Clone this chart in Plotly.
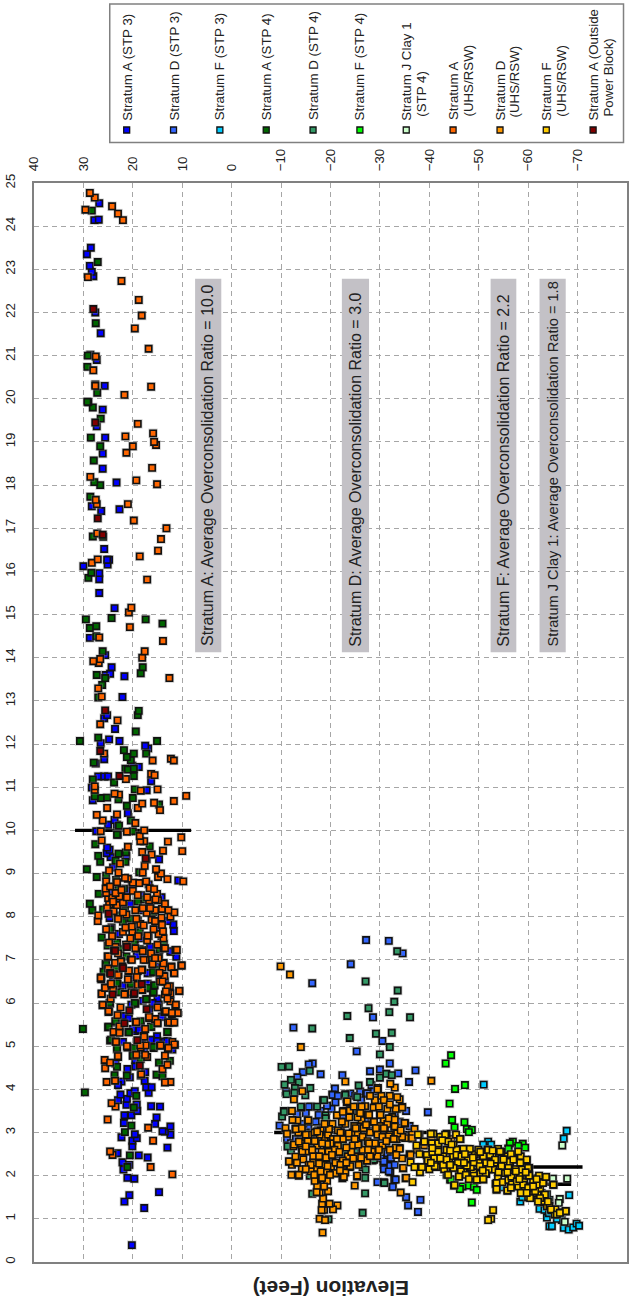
import plotly.graph_objects as go

# each point: (elevation in feet, overconsolidation ratio)
a_stp3 = [(20.2,.39),(17.7,1.25),(21.7,1.4),(20.7,1.55),(14.7,1.62),(19.7,1.93),(21.1,1.95),(21.9,2.14),(20.7,2.25),(22.1,2.31),
(18.8,2.47),(17,2.42),(23.1,2.52),(13,2.65),(20.1,2.68),(20.1,2.81),(19.2,2.87),(19.6,2.96),(22.3,2.89),(12.4,2.95),(13.5,3.02),
(14,3.03),(12.4,3.14),(15.5,3.2),(21.8,3.22),(15.2,3.35),(21.7,3.4),(20.3,3.4),(19.1,3.5),(19.2,3.65),(16.3,3.61),(14.5,3.6),
(21.3,3.64),(23,3.75),(21.2,3.78),(22.5,3.88),(20.5,3.91),(16.8,3.92),(19.6,3.96),(17.3,4.05),(16.2,4.05),(22.3,4.18),(23,4.1),
(17.6,4.2),(17.5,4.4),(21.1,4.47),(20.6,4.28),(18.4,4.32),(19.5,4.53),(19.5,4.68),(12,4.92),(17.7,4.9),(16.2,5.12),(15.1,5.23),
(15.1,5.12),(13.5,5.11),(18.9,5.37),(18.4,5.5),(19.6,5.35),(14,5.69),(21.7,5.7),(15.9,5.96),(14.8,5.96),(20.3,5.96),(16.7,5.83),
(16.4,6.7),(19.6,6.6),(14.6,6.6),(15.3,7.71),(19,7.92),(24.7,7.97),(12.4,7.2),(11.2,7.07),(11.7,7.67),(24.3,7.75),(11.8,7.82),
(18.1,8.15),(14.2,8.45),(20.2,8.75),(10.8,8.84),(24,9.14),(14.7,9.33),(24.5,9.38),(21.3,9.4),(25.3,9.47),(24.7,9.55),(25.2,9.6),
(23,9.9),(27.4,9.98),(23.2,10.13),(25,10.13),(23.7,10.24),(21,10.4),(28.1,10.7),(17.2,10.93),(28.3,10.99),(16.3,11.14),
(27,11.25),(25.8,11.25),(25,11.25),(20.1,11.5),(18.8,11.47),(25.8,11.65),(27.5,11.55),(16.9,11.9),(17.5,11.96),(26.5,12.02),
(24.8,12.11),(22.7,12.07),(23.6,12.35),(25.8,12.6),(25.2,12.67),(22.1,13.09),(21.7,13.57),(25.5,13.6),(24.6,13.63),(24.3,13.78),
(25.6,14.06),(28.7,14.46),(23.7,15.15),(26.8,15.5),(26.8,15.82),(26.8,15.96),(30,16.12),(25.1,16.16),(24.8,16.27),(25.2,16.27),
(25.8,16.52),(22.7,17.44),(26.4,17.4),(28.3,17.51),(23.3,18.06),(26.1,18.38),(26.1,18.73),(25.6,19.1),(27.3,19.36),(26.1,19.75),
(25.7,20.3),(27.3,20.9),(28.6,21.02),(26.5,21.52),(27.6,22),(28,22.84),(28.3,22.94),(28.7,23.08),(29.3,23.35),(28.5,23.5),
(27.8,24.14),(26.9,24.15),(26.8,24.53),(22,6.4),(17,6.45),(24,6.5),(15,6.1),(18,6.05),(21,6.2),(13.5,6.5),(19.2,7.1),(16.5,7.3),
(22.8,7.6),(13,7.9),(18.3,8.5),(20.5,8.3),(23.5,6.9),(14.8,6.85),(20,5.4),(22,5.1),(18.2,5.1),(23.5,4.6),
(12.3,7.19),(16,6),(14.8,5.96),(14.1,5.68),(17,6.69),(18.7,5.38),(16.3,5.15),(15.1,5.12),(13,5.12),(18,7.23),(17.8,7.12),
(22.3,7.95),(16.4,8.25),(20.8,7.35),(14.2,7.55),(24.2,8.6),(16.8,8.75),(21.2,8.6),(23.2,8.4),(18.5,7.5),(22.3,6.85),(16.2,7.15),(24.8,5.9),(20.8,5.65),(23.3,5.55)]

d_stp3 = [(-27.2,7.46),(-31.8,7.44),(-34.6,7.15),(-24.1,6.9),(-16.3,6.46),(-28.6,5.67),(-12.5,5.43),(-30.5,5.12),(-25.3,4.88),(-32,4.6),
(-16.4,4.6),(-15.6,4.58),(-18,4.35),(-28,4.42),(-30,4.46),(-22.4,4.33),(-37.2,4.44),(-33.7,4.37),(-35.9,4.17),(-14.4,4.4),(-13.3,4.28),
(-20.9,4.02),(-20.4,3.88),(-39.7,3.47),(-9.7,3.16),(-32.5,1.74),(-32.9,1.91),(-35.3,1.5),(-35.7,1.31),(-38.2,1.44),(-37.7,1.16),
(-32.1,2.08),(-31.9,2.23),(-30.7,2.33),(-31.5,2.52),(-31.2,2.68),(-11,3.95),(-11.2,2.85),(-12,2.75),(-13,2.85),(-16,3.6),(-18,3.5),
(-17,3.25),(-15.5,3.1),(-14.5,3.2),(-19,3.3),(-20,3.15),(-21,3.7),(-22.5,3.4),(-24,3.9),(-25,3.85),(-26,3.95),(-27.2,3.9),(-28.3,4.1),
(-29,3.7),(-31,3.3),(-33,3.4),(-34,3.25),(-35,3.2),(-30.2,2.4),(-30.8,2.15),(-32.2,2.4),(-29.5,1.85),(-24.5,3.4),(-25.5,3.6),(-27,3.3),
(-23,2.9),(-22,2.5),(-20.5,2.3),(-19,2.65),(-16,2.95),(-14,2.85),(-25,2.95),(-28,3.05),(-33,2.25),
(-15.6,3.6),(-17.6,3.41),(-20.4,3.87),(-27.4,3.91),(-31.5,2.52),(-32.2,2.41),(-30.8,2.33),(-31.8,2.1),(-33.2,1.91),(-32.6,1.74),
(-21.5,3.85),(-23.2,3.78),(-26.2,3.75),(-28.8,3.95),(-20.2,3.55),(-19.3,3.62),(-18.5,3.12),(-13.2,3.42),(-15,3.45),(-33.5,3.55),(-35.3,3.5),(-36,3.15)]

f_stp3 = [(-51,4.11),(-67.8,3.04),(-67.2,2.86),(-51.9,2.79),(-50.9,2.72),(-52.5,2.72),(-68.3,1.55),(-58.4,1.4),(-58.8,1.5),(-54.4,1.73),
(-64.3,1.44),(-63.8,1.57),(-62.3,1.23),(-63.3,1.21),(-63.8,1.03),(-64.3,.83),(-64.8,.83),(-66.8,.97),(-67.2,.79),(-68.2,.75),(-69.1,.8),
(-69.8,.89),(-70.3,.84),(-61.8,1.94),(-62.7,1.6),(-60.5,1.72),(-59.5,1.62),(-62,1.85),(-64.2,1.13),(-65.8,1.0)]

a_stp4 = [(30.1,5.4),(29.7,3.93),(21.1,2.2),(20.6,2.47),(21.6,3.01),(20.3,3.16),(19.8,3.58),(19.3,3.85),(21.2,4.32),(23.7,4.33),(15.2,4.34),
(14,4.3),(23.2,4.52),(14.7,4.62),(12.5,4.66),(18.4,4.7),(20,4.78),(19.8,4.92),(15.8,4.96),(23.2,4.93),(24.6,5.13),(20.9,5.33),(13,5.33),
(16.3,5.45),(25,5.44),(23.5,5.57),(18.4,5.58),(19.5,5.98),(24.6,5.99),(17.2,6.09),(22.6,6.25),(15.9,6.24),(15.7,6.41),(16.9,6.34),(19.2,6.41),
(20.4,6.44),(23.1,6.45),(25.8,6.72),(15.9,6.72),(23.4,6.78),(25.5,6.9),(16,6.93),(21.3,7.08),(16.5,7.05),(14.7,7.08),(14.6,7.24),(18.6,7.25),
(22.5,7.25),(25.1,7.33),(23.2,7.4),(13.7,7.37),(19.6,7.47),(26.3,7.52),(18.6,7.65),(24.6,7.71),(22,7.88),(22.5,8.03),(15.9,8.1),(26,8.17),
(21.6,8.15),(28.2,8.15),(28.7,8.3),(26.9,8.53),(22.9,8.64),(27.3,8.92),(25.4,8.95),(18.7,9.03),(29.3,9.1),(23.5,9.3),(26.6,9.27),(21.5,9.27),
(27,9.41),(22.9,9.46),(21.4,9.49),(16.6,9.63),(27.6,9.68),(23.2,9.9),(20,9.98),(22.8,10.11),(20.4,10.23),(21.2,10.57),(14.7,10.6),(22.9,10.72),
(20,10.75),(26.5,10.75),(25.2,10.76),(27.7,10.79),(19.6,10.95),(23.8,11.11),(28.1,11.18),(19.8,11.26),(21.5,11.43),(21,11.41),(19.8,11.43),
(20.4,11.63),(27.9,11.57),(21.2,11.7),(19.8,11.78),(17.3,11.78),(21.8,11.86),(15.1,12.07),(30.7,12.07),(27,12.15),(19.4,12.29),(19,12.67),
(18.8,12.77),(27,13.08),(26.2,13.37),(25.6,13.53),(27.3,13.6),(18.4,13.64),(18,13.78),(26.1,14.15),(27.4,14.5),(28.7,14.69),(27.4,14.73),
(14,14.79),(17.4,14.89),(29.5,14.89),(24.3,14.92),(29,15.85),(28.4,15.97),(28.1,16.81),(26,16.8),(26.6,18),(27.8,18.07),(28.6,17.73),(27.9,18.57),
(26.6,18.9),(28.5,19.1),(26.5,19.54),(28.1,19.8),(29,19.92),(29.2,19.93),(27.2,20.14),(27.6,20.33),(29.2,20.74),(29.1,21),(27.5,21.75),(27.1,23.17),(28.3,24.36),
(25.4,6.91),(25.9,6.72),(20.4,6.44),(16.1,6.91),(14.8,6.77),(15.6,6.41),(17,6.35),(15.8,6.25),(17.3,6.09),(19.6,6),(24.7,6),(23.5,5.58),(24.9,5.45),(20.8,5.32),
(16.3,5.45),(13,5.33),(15.8,4.98),(19.7,4.96),(23.2,4.95),(24.4,5.15),(20,4.79),(23.2,6.46),(19.7,7.42),(24,8.1),(20.4,7.95),(17.6,8.4),(21.8,8.65),(19,8.35),(23.4,8.85),(16.8,7.55)]

d_stp4 = [(-33.5,7.2),(-27.1,6.5),(-33.6,6.29),(-32.9,6.03),(-27.7,5.88),(-31.9,5.79),(-23.4,5.7),(-36.1,5.67),(-16.3,5.41),(-29.2,5.29),(-32.4,5.31),
(-23.9,5.19),(-32,4.98),(-30,4.81),(-10.1,4.52),(-11.6,4.53),(-15.8,4.43),(-12,4.22),(-13.6,4.16),(-10.7,4.11),(-15.9,4.03),(-11.1,3.89),(-12.8,4.03),
(-14.9,3.86),(-12.7,3.92),(-18.5,3.75),(-10.6,3.5),(-10.2,3.37),(-14.1,3.58),(-17.3,3.6),(-30,4.27),(-31.3,4.36),(-32.4,4.33),(-25.7,4.09),(-28,4.17),
(-23,3.89),(-27,1.59),(-26.5,1.14),(-19.6,.99),(-30.8,1.85),(-16.3,1.58),(-11.4,2.68),(-12,2.58),(-13,3.2),(-15,3.0),(-19,3.4),(-24.5,3.55),(-24,2.65),
(-25,2.55),(-23,2.5),(-28.5,2.35),(-27,2.4),(-26,3.35),(-16,2.65),(-17.5,3.05),(-22.5,2.72),(-20.5,2.45),(-27,1.95),(-26.5,2.2),(-15.8,2.0),
(-11.3,2.68),(-10.6,3.48),(-14,3.6),(-18.7,3.75),(-23,3.87),(-25.4,3.82),(-25,3.38),(-19,3.33),(-16,2.95),(-23,2.52),(-28.8,2.37),(-27.1,2.14),(-30.9,1.83),(-22.4,3.2)]

f_stp4 = [(-44.4,4.79),(-43.3,4.6),(-47.2,4.1),(-45.2,4.01),(-44.1,3.67),(-44.6,3.29),(-47.1,3.24),(-45.1,3.12),(-47.6,3.08),(-48.6,3.06),(-48,3.01),
(-56.9,2.79),(-56.3,2.75),(-58.9,2.74),(-58,2.69),(-59.4,2.65),(-56,2.63),(-44.5,2.47),(-53.5,2.41),(-48.9,2.27),(-58.9,2.23),(-47.1,2.41),(-44.2,1.91),
(-46.7,1.75),(-48,1.77),(-49,1.74),(-49.6,1.67),(-46.2,1.69),(-48.6,1.38),(-43.5,2.02),(-44.5,2.48),(-48.9,2.25),(-56,2.62),(-44.4,1.91)]

j_stp4 = [(-65,1.93),(-67.9,1.93),(-66.9,2.7),(-66.4,1.46),(-67.4,.93),(-66.2,1.37)]

a_uhs = [(12,2.03),(16.4,2.2),(24.1,2.48),(24.6,2.56),(15.9,2.81),(16.9,3.11),(25.1,3.3),(23.5,3.6),(24.3,3.68),(12.4,4.17),(13.5,4.16),(23.6,4.2),(25.3,4.17),
(18.3,4.35),(14,4.47),(13,4.57),(25.6,4.49),(25.7,4.68),(24.6,4.62),(13.5,4.78),(23,4.75),(17.1,4.75),(21.1,4.97),(18.4,4.97),(17.4,5.02),(14.5,5.01),
(12.9,4.94),(11.5,5.03),(12,5.1),(23.5,5.11),(17.8,5.24),(23.9,5.33),(22.7,5.34),(22.7,5.46),(12.9,5.55),(11.9,5.55),(15,5.53),(19.4,5.56),(11.1,5.77),
(12.1,5.74),(16.7,5.65),(15.5,5.63),(24.9,5.79),(23.1,5.72),(13.6,5.79),(11.4,5.95),(26.1,5.95),(12.4,6.04),(26.3,6.21),(21.6,6.21),(18.1,6.3),(24,6.31),
(25.6,6.36),(24.5,6.43),(13.5,6.2),(12.4,6.22),(12.9,6.27),(10.6,6.28),(12.5,6.39),(26.4,6.55),(19,6.74),(20.9,6.74),(14,6.82),(11.7,6.7),(22.9,6.67),
(26.4,6.6),(18.1,6.77),(19.2,6.6),(13.8,6.63),(12.2,6.85),(10.2,6.87),(13.8,6.93),(17.4,7),(23.6,6.93),(22.4,6.97),(20.4,7.01),(15.6,7.05),(25.1,7.08),
(11.4,7.23),(13.8,7.27),(19.5,7.27),(21.4,7.35),(17.1,7.45),(13.8,7.5),(17,7.56),(14.8,7.6),(13.9,7.66),(15.8,7.71),(20.1,7.65),(22,7.65),(25.4,7.71),
(14.1,7.81),(20.2,7.77),(18.5,7.83),(16.2,7.93),(12.4,8),(14.2,7.98),(15.5,7.9),(27.1,7.9),(21.3,8.05),(27,8.03),(17.2,8.09),(23.9,8.13),(19.5,8.15),
(11.6,8.1),(14.1,8.18),(23.2,8.27),(22,8.33),(14.9,8.38),(16.7,8.38),(17.1,8.45),(25,8.43),(24.2,8.44),(22.7,8.47),(15.1,8.53),(25.4,8.55),(16.6,8.66),
(15.7,8.64),(25.5,8.65),(23.2,8.8),(18.7,8.78),(20,8.79),(25.4,8.82),(17.3,8.82),(9.8,8.82),(13,8.87),(21,8.88),(21.6,8.9),(14.9,8.92),(14.3,9),(22.9,9.02),
(24.8,9.07),(18,9.02),(15.3,9.1),(17.6,9.18),(22.6,9.23),(17.2,9.33),(16.2,9.44),(18.1,9.5),(10,9.52),(13.9,9.53),(21,9.62),(12.9,9.74),(17.7,9.75),(18.5,9.75),
(26.3,9.77),(18.6,9.87),(10.2,9.84),(26.5,9.98),(21.2,9.97),(26.1,10.23),(19.5,10.17),(17.7,10),(27.3,10.36),(23.2,10.37),(14.5,10.47),(25.2,10.52),(19,10.52),
(18.1,10.62),(15.7,10.64),(11.7,10.68),(9.2,10.8),(22.8,10.83),(23.7,10.85),(15,10.95),(18.4,10.92),(27.7,10.94),(27.7,11.02),(21.4,11.19),(16.3,11.31),(15.6,11.28),
(16,11.62),(12.3,11.66),(11.7,11.62),(25.8,11.78),(26.6,12.46),(23.1,12.55),(26.3,13.1),(27,13.29),(12.6,13.53),(26.9,13.88),(28,13.92),(26.6,13.97),(18.1,14),
(17.6,14.15),(13.9,14.39),(26.8,14.47),(20.6,14.71),(20.8,15.05),(20.3,15.16),(17.1,15.81),(28.3,16.2),(27.1,16.28),(18.6,16.35),(14.9,16.48),(14.3,16.75),(27.2,16.88),
(13.2,17),(19.8,17.18),(21,17.56),(27.3,17.56),(27.5,17.66),(15.1,18.02),(19.3,18.11),(28.6,18.19),(16.1,18.4),(21.3,18.75),(20,18.9),(15.3,18.93),(15.7,19),(21.5,19.13),
(15.9,19.2),(19,19.42),(21.7,20.09),(27.6,20.3),(16.3,20.28),(28,20.66),(27.5,20.98),(16.8,21.16),(19.6,21.63),(18.2,21.93),(18.8,22.29),(22.3,22.73),(29.1,22.82),
(22,24.14),(23,24.29),(24.2,24.46),(29.6,24.38),(27.7,24.66),(28.7,24.77),(24.5,6.1),(22.5,5.9),(17.5,5.4),(14.5,6.5),(16,6.9),(21,6.55),(23.5,7.3),(25,6.8),(18,7.2),(15,7.35),
(24.8,8.28),(15.5,8.15),(18.9,7.55),(23,7.95),(16.3,7.15),(20.3,6.25),(13,6.1),(15,5.9),
(11.1,7.23),(13.5,7.27),(10.1,6.87),(12.2,6.83),(13.8,6.92),(14.8,7.04),(11.6,6.69),(13.6,6.62),(10.6,6.28),(13,6.38),(13.3,6.27),(11.3,5.96),(13.3,5.81),(10.9,5.77),(12.1,5.77),
(12.6,5.55),(11.6,5.55),(15,5.54),(16.7,5.68),(19.3,5.56),(11.6,5.04),(12.8,4.96),(14.4,5.02),(17.7,5.22),(18.5,5.02),(21.2,5),(23.4,5.1),(22.7,5.31),(26.1,5.96),(26.3,6.22),(26.5,6.58),
(25.6,6.35),(24.9,5.81),(24.4,6.45),(23,6.65),(22.4,6.96),(25,7.08),(20.2,7),(17.8,7),(20.8,6.75),(18.2,6.77),(15.5,7.04),(14.6,6.7),(21.7,6.2),(18.2,6.31),(19,6.42),(14,6.5),(23,4.77),(17.5,4.8),(19.3,4.8),
(24.2,7.55),(23,7.15),(21.5,7.75),(20.5,7.5),(24.8,7.4),(22,8.1),(24,8.35),(25.2,8.2),(21.2,8.45),(20,8.6),(19,8.5),(23.5,8.55),(24.6,8.7),(22.3,8.62),(18,8.2),(16.5,8.2),(15.4,8.4),(13.5,8.3),(12.8,8.15),(17.8,7.8),(19.3,7.95)]

d_uhs = [(-9.9,6.85),(-11.8,6.66),(-14,4.98),(-40.4,4.2),(-23,4.18),(-14.3,3.96),(-12.6,3.77),(-34.5,3.59),(-34,3.77),(-33,4.04),(-32.1,4.13),(-29.6,4.03),(-18.4,.68),(-17.8,1),
(-18.9,.97),(-21.4,1.31),(-18.7,1.21),(-20.5,1.22),(-18.3,1.35),(-19.8,1.35),(-18.5,1.47),(-17.8,1.61),(-19.5,1.64),(-17.3,1.76),(-19.3,1.88),(-16.8,1.88),(-24.9,1.77),(-25.4,1.98),
(-22.4,1.94),(-13.6,2),(-12.1,2.02),(-34.2,1.61),(-35.2,1.94),(-34.7,2.17),(-10.9,3.1),(-11.2,2.97),(-12.9,3.08),(-13.3,3.28),(-12.2,3.5),(-15.4,3.28),(-17.2,3.02),(-13.7,2.79),(-15.4,2.8),
(-11.7,2.33),(-12.9,2.44),(-14.5,2.38),(-15.3,2.56),(-16.3,2.6),(-17.6,2.43),(-17,2.18),(-18.2,1.94),(-19.3,2.72),(-18.8,2.87),(-20.4,3.2),(-22.1,3),(-21.5,2.69),(-20.1,2.21),(-20.8,2.05),
(-22.3,2.21),(-23.9,2.2),(-23,2.07),(-23.6,2.9),(-22.6,3.5),(-23.3,3.7),(-24,3.52),(-26.3,3.29),(-26.7,3.1),(-27,3.61),(-27.5,3.41),(-28.7,3.58),(-30,3.41),(-28.7,3.25),(-30.8,3.27),(-32.5,3.36),
(-31,3.09),(-32.9,3.14),(-35.1,3.21),(-37,3.08),(-33.4,2.85),(-35.1,2.87),(-36.6,2.86),(-34,2.64),(-28.4,2.56),(-25.7,2.73),(-27.4,2.35),(-25.7,2.25),(-23.5,2.45),(-18.6,2.25),
(-13.5,3),(-14.2,2.62),(-12.5,2.68),(-16.5,2.45),(-15.6,2.25),(-14.2,2.15),(-16,2.1),(-17.3,2.7),(-18.2,2.55),(-19.2,2.4),(-18,3.05),(-19.5,2.95),(-20.5,2.85),(-21.5,3.05),(-20.8,2.6),(-22.5,2.85),
(-23,3.2),(-24.5,3),(-25.5,2.95),(-24.5,2.7),(-26.5,2.9),(-27.5,2.8),(-28,3),(-29.5,2.95),(-29,2.75),(-30.5,2.9),(-32,2.95),(-31.5,3.2),(-30,3.15),(-29,3.75),(-31.5,3.55),(-33.2,3.55),(-32,3.85),
(-30.3,3.85),(-29.5,4.0),(-28,3.85),(-26.3,3.6),(-25.5,3.35),(-24.8,3.15),(-25.5,2.45),(-24.2,2.55),(-22.5,2.35),(-21,2.3),(-19.2,2.1),(-18,2.1),(-16.5,2.3),(-18.7,1.75),(-17.8,2.95),(-15.5,2.95),
(-22.3,3.25),(-21.3,3.4),(-23.8,3.35),(-34.5,2.9),(-36.5,2.95),(-37.5,2.6),(-36,2.5),(-34.5,2.4),(-33.2,2.65),(-32,2.6),(-30.5,2.7),(-29.5,2.45),(-20,2.75),(-12.2,2.25),(-14,2.75),(-16.8,3),
(-19.6,2.55),(-26.5,2.6),(-38,2.95),(-39,2.7),(-40.5,2.9),(-41.5,2.65),(-44.5,2.85),
(-11.6,2.33),(-12.6,2.72),(-13.6,2.02),(-14.3,2.56),(-16.3,2.6),(-17.7,2.45),(-16,2.25),(-16.7,2.02),(-18.3,1.95),(-19.4,2.22),(-21,2.06),(-22.7,1.97),(-25.4,2),(-24,2.22),(-22,2.25),(-27.4,2.35),(-28.4,2.56),
(-27.8,2.75),(-25.6,2.72),(-23.7,2.98),(-22,3),(-19.3,2.73),(-17.3,3.02),(-15,2.95),(-13,3.08),(-12.3,3.29),(-15.5,3.28),(-13.6,2.79),(-27.8,3.41),(-30.1,3.41),(-31.8,3.33),(-33,3.14),(-35,3.22),(-30.8,3.75),
(-33.5,3.82),(-34.5,3.58),(-25.1,3.1),(-26.7,3.1),(-28.8,3.25),(-30.8,3.1),(-31.8,2.91),(-33.5,2.98),(-36.5,2.87),(-34,2.62),(-36.2,2.48),(-33.3,2.48),(-34.7,2.18),(-35.3,1.95),(-22.5,3.48),(-23.9,3.51),(-23.4,3.72),
(-19.1,2.42),(-20.3,2.48),(-21.8,2.55),(-18.3,2.75),(-16.8,2.8),(-13.2,2.3),(-15,2.15),(-17.7,2.28),(-19.9,2.02),(-21.9,2.12),(-23.2,2.3),(-24.6,2.4),(-26.2,2.42),(-27.6,2.6),(-29.2,3.1),(-27.2,3.18),(-26,3.45),
(-24.7,3.6),(-29.8,3.6),(-32,3.65),(-33,3.3),(-34.2,3.05),(-32.8,2.85),(-31.3,2.8),(-29.8,2.6),(-28,2.45),(-21.3,2.85),(-23.2,2.65),(-24.9,2.85),(-19.7,3.08),(-18.8,3.2),(-15,2.68),(-14.2,3.1),(-17.2,1.62),(-18.2,1.2)]

f_uhs = [(-38.9,2.79),(-39.5,2.48),(-39.6,2.33),(-38.1,2.08),(-36.2,2.31),(-36.6,1.85),(-40.8,2.97),(-43.5,2.97),(-45.4,2.95),(-46.3,2.85),(-39,2.79),(-41.8,2.72),(-43.8,2.79),(-44.9,2.72),
(-41.8,2.6),(-46.6,2.62),(-47.6,2.62),(-39.5,2.48),(-39.7,2.35),(-42.4,2.25),(-44.7,2.18),(-47.3,2.23),(-46.2,2.48),(-50.8,2.43),(-51.8,2.6),(-53.9,2.62),(-55.6,2.45),(-57.3,2.39),(-59.7,2.35),
(-56.3,2.31),(-54.6,2.21),(-52.9,2.14),(-51.5,2.04),(-50.3,2.04),(-48.9,2.08),(-46.9,2.1),(-46,1.98),(-45,1.77),(-50.9,1.91),(-49.6,1.91),(-53.4,1.81),(-53.6,1.67),(-55.8,1.65),(-60.2,2.18),
(-60.2,2.01),(-57,1.98),(-58,1.75),(-60,1.5),(-61.8,1.64),(-63.6,1.97),(-65.1,1.79),(-63.1,1.87),(-62.4,1.71),(-63.1,1.39),(-63.8,1.29),(-64.7,1.2),(-65.4,1.1),(-66.4,1.15),(-67.6,1.17),
(-55.3,2.06),(-53.9,1.98),(-52.9,1.2),(-52.5,1),(-51.9,.97),(-40.5,2.75),(-41,2.4),(-42.8,2.45),(-43.5,2.6),(-45.5,2.6),(-44,2.35),(-45.8,2.3),(-47.8,2.4),(-49.2,2.5),(-50,2.3),(-51.5,2.3),
(-52.8,2.45),(-54.6,2.55),(-56.5,2.5),(-58.5,2.45),(-52,2.15),(-48.4,2.2),(-43,2.15),(-41.5,2.2),(-49,2),(-54.8,1.85),(-56,1.9),(-57.5,2.15),(-58.5,2.0),(-59.2,1.85),(-59.3,1.7),(-60.8,1.75),
(-61,1.9),(-62,1.55),(-61,1.6),(-62.2,2),(-58.5,1.6),(-56.7,1.8),(-55.2,2.25),(-53.2,2.3),(-42.2,2.9),(-44.8,2.45),(-46.4,2.1),(-47.4,2.02),(-38,2.5),(-37.4,2.7),(-37,2.2),(-65.5,1.22),(-63.2,1.55),
(-64.3,1.3),(-37.7,2.95),(-38.5,2.2),(-40,2.15),(-40.6,2.55),
(-41.8,2.75),(-43.2,2.95),(-46.2,2.85),(-44.5,2.72),(-46.9,2.62),(-48.2,2.62),(-45.5,2.48),(-46.5,2.45),(-50.9,2.45),(-52.3,2.48),(-49.9,2.6),(-51.9,2.6),(-54.3,2.56),(-56.3,2.32),(-58,2.56),(-59.7,2.37),(-57,2.37),
(-47.6,2.23),(-49,2.31),(-50.2,2.22),(-44.9,2.18),(-42.8,2.25),(-41.1,2.22),(-43.8,2.02),(-46,1.98),(-45.1,1.78),(-49.6,1.91),(-51.4,2.06),(-50.9,1.92),(-53.6,1.83),(-53.6,1.69),(-55.8,1.66),(-54.6,2.22),(-56.6,1.98),
(-58.7,2.14),(-60,2.18),(-60.2,2),(-57.7,1.87),(-59,1.79),(-60,1.72),(-61.4,1.64),(-62,1.79),(-63,1.83),(-63.6,1.97),(-65.1,1.79),(-60.4,1.48),(-63,1.41),(-64.6,1.22),(-65.8,1.1),(-67.6,1.18),(-66.4,1.14),(-63.4,1.56),
(-62.4,1.48),(-61,1.75),(-61.7,1.92),(-57.5,2.1),(-56,2.18),(-53.3,2.37),(-41.8,2.56),(-40.6,2.64),(-40.3,2.97),(-43.5,2.37),(-42.6,2.82),(-44.2,2.58),(-47.2,2.5),(-48.8,2.42),(-50.3,2.55),(-52.8,2.58),(-55,2.38),
(-58.4,2.3),(-55.8,2.08),(-54,2.08),(-52.4,2.28),(-50.8,2.12),(-48,1.92),(-47,2.3),(-44.2,2.25),(-42.2,2.4),(-40.3,2.3),(-59.5,2.08),(-58.2,1.92),(-56.5,1.72),(-59.7,1.6),(-62,1.4),(-64,1.4)]

a_outside = [(18.6,4.55),(19.1,5.14),(21.7,5.53),(20.7,5.83),(17.2,5.86),(19.8,6.2),(24.1,6.2),(18.2,6.44),(24.6,6.7),(22.1,6.85),(23.8,7.22),(21.2,7.3),(24.9,8.07),(17.4,9.35),(22.7,11.26),
(26.6,11.84),(25.6,12.78),(26.1,16.85),(27.1,17.23),(27.6,19.45),(28,22.08),(23.6,7.21),(22,6.81),(24.5,6.68),(19.7,6.23)]

series_names = ["Stratum A (STP 3)","Stratum D (STP 3)","Stratum F (STP 3)","Stratum A (STP 4)","Stratum D (STP 4)","Stratum F (STP 4)",
                "Stratum J Clay 1 (STP 4)","Stratum A (UHS/RSW)","Stratum D (UHS/RSW)","Stratum F (UHS/RSW)","Stratum A (Outside Power Block)"]
series_data = [a_stp3,d_stp3,f_stp3,a_stp4,d_stp4,f_stp4,j_stp4,a_uhs,d_uhs,f_uhs,a_outside]
series_colors = ["#0000FF","#3366FF","#00CCFF","#006600","#339966","#00FF00","#CCFFCC","#FF6600","#FF9900","#FFCC00","#800000"]
legend_lines = [["Stratum A (STP 3)"],["Stratum D (STP 3)"],["Stratum F (STP 3)"],["Stratum A (STP 4)"],["Stratum D (STP 4)"],["Stratum F (STP 4)"],
                ["Stratum J Clay 1","(STP 4)"],["Stratum A","(UHS/RSW)"],["Stratum D","(UHS/RSW)"],["Stratum F","(UHS/RSW)"],["Stratum A (Outside","Power Block)"]]

# average lines: OCR, elevation from, elevation to
avg_ocr = [10.0, 3.0, 2.2, 1.8]
avg_from = [31.7, -8.6, -40.0, -58.0]
avg_to = [8.2, -40.0, -71.0, -68.7]

# label bands
band_text = ["Stratum A: Average Overconsolidation Ratio = 10.0","Stratum D: Average Overconsolidation Ratio = 3.0",
             "Stratum F: Average Overconsolidation Ratio = 2.2","Stratum J Clay 1: Average Overconsolidation Ratio = 1.8"]
band_hi = [7.4,-22.3,-52.4,-62.3]
band_lo = [2.1,-27.8,-57.6,-67.6]
band_ocr = (14.13,22.78)
band_font = [16,16,16,14.6]

W,H = 631,1304
L,R,T,B = 34,629,183,1262
FONT = "Liberation Sans, Arial, sans-serif"
INK = "#222"
fig = go.Figure()
for o,a,b in zip(avg_ocr,avg_from,avg_to):
    fig.add_trace(go.Scatter(x=[a,b],y=[o,o],mode="lines",line=dict(color="#000",width=3.4),showlegend=False,hoverinfo="skip"))
for n,d,c in zip(series_names,series_data,series_colors):
    ex=[p[0] for p in d]; ey=[p[1] for p in d]
    fig.add_trace(go.Scatter(x=ex,y=ey,mode="markers",showlegend=False,hoverinfo="skip",
        marker=dict(symbol="square",size=9.5,color="rgba(140,140,140,0.4)",line=dict(width=0))))
    fig.add_trace(go.Scatter(x=ex,y=ey,mode="markers",name=n,showlegend=False,
        marker=dict(symbol="square",size=6.3,color=c,line=dict(color="#111",width=1.6))))

shapes=[];ann=[]
for t,h,l,fs in zip(band_text,band_hi,band_lo,band_font):
    shapes.append(dict(type="rect",xref="x",yref="y",x0=h,x1=l,y0=band_ocr[0],y1=band_ocr[1],fillcolor="#C3C1C6",line_width=0,layer="between"))
    ann.append(dict(xref="x",yref="y",x=(h+l)/2,y=14.22,text=t,textangle=-90,showarrow=False,xanchor="center",yanchor="bottom",font=dict(family=FONT,size=fs,color=INK)))

def px(x): return (x-L)/(R-L)
def py(y): return (B-y)/(B-T)
shapes.append(dict(type="rect",xref="paper",yref="paper",x0=px(110),x1=px(625.5),y0=py(142.5),y1=py(4),fillcolor="#fff",line=dict(color="#808080",width=1.5)))
key_x=[127,174,220.5,267,314,361,407.5,454.5,501.6,548,595]
for kx,lines,c in zip(key_x,legend_lines,series_colors):
    shapes.append(dict(type="rect",xref="paper",yref="paper",x0=px(kx-3),x1=px(kx+3),y0=py(133),y1=py(127),fillcolor=c,line=dict(color="#111",width=1.3)))
    for i,tx in enumerate(lines):
        ann.append(dict(xref="paper",yref="paper",x=px(kx+i*14.5),y=py(122.5 if i==0 else 119),text=tx,textangle=-90,showarrow=False,xanchor="center",yanchor="bottom",
                        font=dict(family=FONT,size=13.3,color=INK)))
ann.append(dict(xref="paper",yref="paper",x=px(332),y=py(1289),text="<b>Elevation (Feet)</b>",textangle=180,showarrow=False,xanchor="center",yanchor="middle",font=dict(family=FONT,size=21,color=INK)))

grid=dict(showgrid=True,gridcolor="#A6A6A6",griddash="5px,4px",gridwidth=1.2,zeroline=False,showline=True,linecolor="#808080",linewidth=2,mirror=True,
          ticks="outside",tickcolor="rgba(0,0,0,0)",tickfont=dict(family=FONT,size=13.3,color=INK),tickangle=-90)
fig.update_layout(width=W,height=H,margin=dict(l=L,r=W-R,t=T,b=H-B),paper_bgcolor="#fff",plot_bgcolor="#fff",showlegend=False,shapes=shapes,annotations=ann,
    xaxis=dict(range=[40,-80],dtick=10,side="top",ticklen=7,**grid),
    yaxis=dict(range=[0,25],dtick=1,ticklen=12,**grid))
fig.write_html("out.html",config=dict(displayModeBar=False),post_script="document.body.style.margin='0';document.body.style.overflow='hidden';")
